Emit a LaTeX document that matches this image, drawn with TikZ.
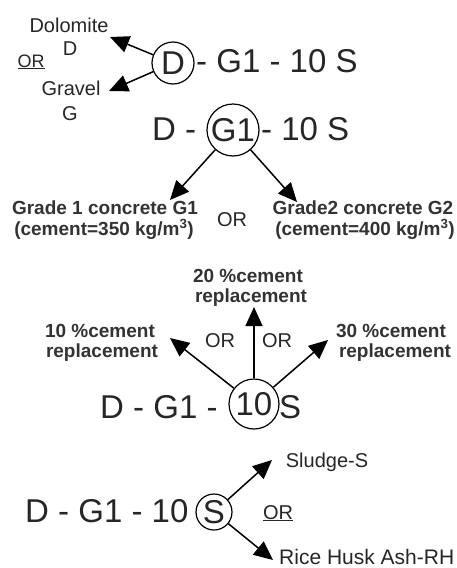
\documentclass[tikz,border=0pt]{standalone}
\usepackage{fontspec}
\setmainfont{Liberation Sans}
\usetikzlibrary{arrows.meta,shapes.geometric}
\begin{document}
\begin{tikzpicture}[x=1pt,y=-1pt,
  big/.style={font=\fontsize{33}{38}\selectfont, inner sep=0pt, anchor=base west, text=black!85},
  lbl/.style={font=\fontsize{20}{24}\selectfont, inner sep=0pt, anchor=base, text=black!85},
  bl/.style={font=\fontsize{19}{23}\selectfont\bfseries, inner sep=0pt, anchor=base, text=black!80},
  ring/.style={circle, draw, line width=1.2pt, inner sep=0pt, font=\fontsize{33}{38}\selectfont, text=black!85},
  arr/.style={line width=1.5pt, -{Triangle[length=19pt,width=17pt]}}
]
\useasboundingbox (0,0) rectangle (456,568);
\fill[white] (0,0) rectangle (456,568);

% ---- block 1
\node[ring, minimum size=42pt] (d1) at (173,63) {D};
\node[big] (l1) at (196,72) {- G1 - 10 S};
\node[lbl] (dolo) at (69,32) {Dolomite};
\node[lbl] (dolod) at (70,55) {D};
\node[lbl, font=\fontsize{18}{22}\selectfont] (or1) at (31,67) {\underline{OR}};
\node[lbl] (grav) at (71,95) {Gravel};
\node[lbl] (gravg) at (70,120) {G};
\coordinate (t1a) at (110,37);
\coordinate (t1b) at (109,91);
\draw[arr] (d1) -- (t1a);
\draw[arr] (d1) -- (t1b);

% ---- block 2
\node[big] (l2a) at (152,140) {D -};
\node[ring, minimum size=52pt] (g1) at (233,130) {G1};
\node[big] (l2b) at (261,140) {- 10 S};
\node[bl] (gr1) at (105,214) {Grade 1 concrete G1};
\node[bl] (ce1) at (104,235) {(cement=350 kg/m\textsuperscript{3})};
\node[lbl] (or2) at (232,226) {OR};
\node[bl] (gr2) at (363,214) {Grade2 concrete G2};
\node[bl] (ce2) at (365,235) {(cement=400 kg/m\textsuperscript{3})};
\coordinate (t2a) at (170,200);
\coordinate (t2b) at (297,202);
\draw[arr] (g1) -- (t2a);
\draw[arr] (g1) -- (t2b);

% ---- block 3
\node[bl] (p20) at (248,282) {20 \%cement};
\node[bl] (r20) at (251,302) {replacement};
\node[bl] (p10) at (100,337) {10 \%cement};
\node[bl] (r10) at (102,357) {replacement};
\node[bl] (p30) at (391,337) {30 \%cement};
\node[bl] (r30) at (395,357) {replacement};
\node[lbl] (or3a) at (220,347) {OR};
\node[lbl] (or3b) at (277,347) {OR};
\node[big] (l3a) at (100,418) {D - G1 -};
\node[ring, minimum size=50pt] (c10) at (254,404) {10};
\node[big] (l3b) at (279,418) {S};
\coordinate (t3a) at (170,338);
\coordinate (t3b) at (254,307);
\coordinate (t3c) at (328,340);
\draw[arr] (c10) -- (t3a);
\draw[arr] (c10) -- (t3b);
\draw[arr] (c10) -- (t3c);

% ---- block 4
\node[big] (l4) at (25,522) {D - G1 - 10};
\node[ring, minimum size=36pt] (s4) at (214,512) {S};
\node[lbl] (slu) at (327,467) {Sludge-S};
\node[lbl] (or4) at (278,519) {\underline{OR}};
\node[lbl, anchor=base west, font=\fontsize{21}{25}\selectfont] (rha) at (279,564) {Rice Husk Ash-RH};
\coordinate (t4a) at (272,460);
\coordinate (t4b) at (273,560);
\draw[arr] (s4) -- (t4a);
\draw[arr] (s4) -- (t4b);
\end{tikzpicture}
\end{document}
